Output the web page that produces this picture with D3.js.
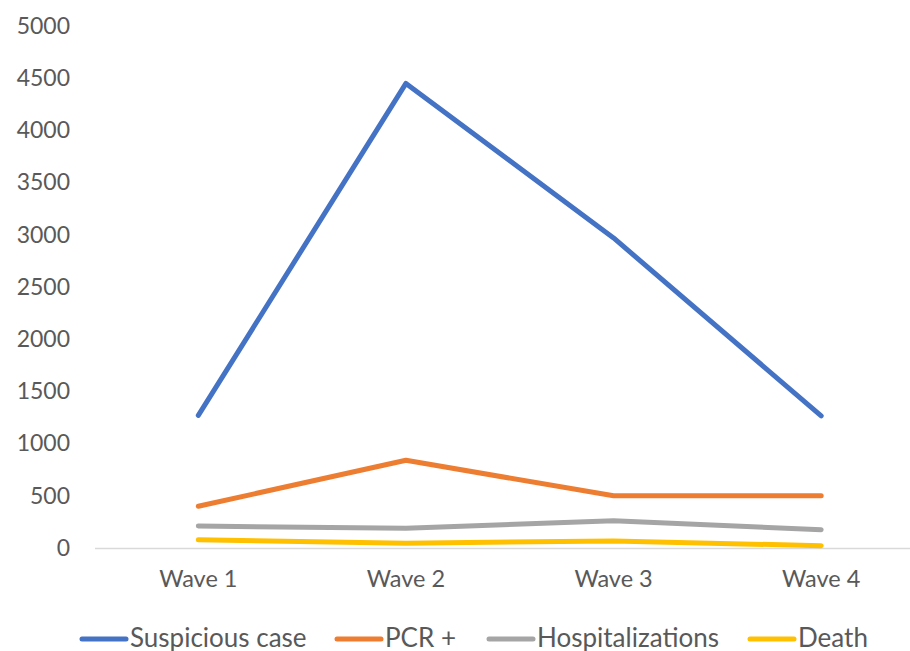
<!DOCTYPE html>
<html>
<head>
<meta charset="utf-8">
<script src="https://cdn.jsdelivr.net/npm/d3@7"></script>
<style>
  html, body { margin: 0; padding: 0; background: #fff; }
  svg { display: block; }
</style>
</head>
<body>
<svg id="chart" width="910" height="651"></svg>
<script>
// Categories and series
const waves = ["Wave 1", "Wave 2", "Wave 3", "Wave 4"];
const suspiciousCase = [1270, 4450, 2970, 1265];
const pcrPositive = [400, 840, 500, 500];
const hospitalizations = [210, 190, 260, 175];
const deaths = [78, 45, 68, 22];
const yTicks = [0, 500, 1000, 1500, 2000, 2500, 3000, 3500, 4000, 4500, 5000];

const series = [
  { name: "Suspicious case", values: suspiciousCase, color: "#4472C4" },
  { name: "PCR +", values: pcrPositive, color: "#ED7D31" },
  { name: "Hospitalizations", values: hospitalizations, color: "#A5A5A5" },
  { name: "Death", values: deaths, color: "#FFC000" }
];

const svg = d3.select("#chart");
const font = "Lato, 'Open Sans', sans-serif";
const textColor = "#595959";

const x = d3.scaleBand().domain(waves).range([94.5, 925]);
const y = d3.scaleLinear().domain([0, 5000]).range([548, 26]);

// Value axis labels (no axis line, no gridlines)
const yAxis = svg.append("g")
  .attr("transform", "translate(70,0)")
  .call(d3.axisLeft(y).tickValues(yTicks).tickSize(0).tickPadding(0).tickFormat(d3.format("d")));
yAxis.select(".domain").remove();
yAxis.selectAll("text")
  .attr("fill", textColor)
  .style("font-family", font)
  .style("font-size", "23px");

// Category axis
const xAxis = svg.append("g")
  .attr("transform", `translate(0,${y(0)})`)
  .call(d3.axisBottom(x).tickSize(0).tickPadding(22));
xAxis.select(".domain").attr("stroke", "#D9D9D9").attr("stroke-width", 1.5);
xAxis.selectAll("text")
  .attr("fill", textColor)
  .style("font-family", font)
  .style("font-size", "23.5px");

// Lines
const line = d3.line()
  .x((d, i) => x(waves[i]) + x.bandwidth() / 2)
  .y(d => y(d));

svg.append("g").selectAll("path")
  .data(series.slice().reverse())
  .join("path")
  .attr("d", s => line(s.values))
  .attr("fill", "none")
  .attr("stroke", s => s.color)
  .attr("stroke-width", 5)
  .attr("stroke-linecap", "round")
  .attr("stroke-linejoin", "round");

// Legend
const legendX = [80, 335, 487, 748];
const legend = svg.append("g").attr("transform", "translate(0,639)");
const items = legend.selectAll("g")
  .data(series)
  .join("g")
  .attr("transform", (d, i) => `translate(${legendX[i]},0)`);
items.append("line")
  .attr("x1", 2).attr("x2", 46)
  .attr("y1", 0).attr("y2", 0)
  .attr("stroke", d => d.color)
  .attr("stroke-width", 5)
  .attr("stroke-linecap", "round");
items.append("text")
  .attr("x", 50)
  .attr("y", 8)
  .attr("fill", textColor)
  .style("font-family", font)
  .style("font-size", "26px")
  .text(d => d.name);
</script>
</body>
</html>
